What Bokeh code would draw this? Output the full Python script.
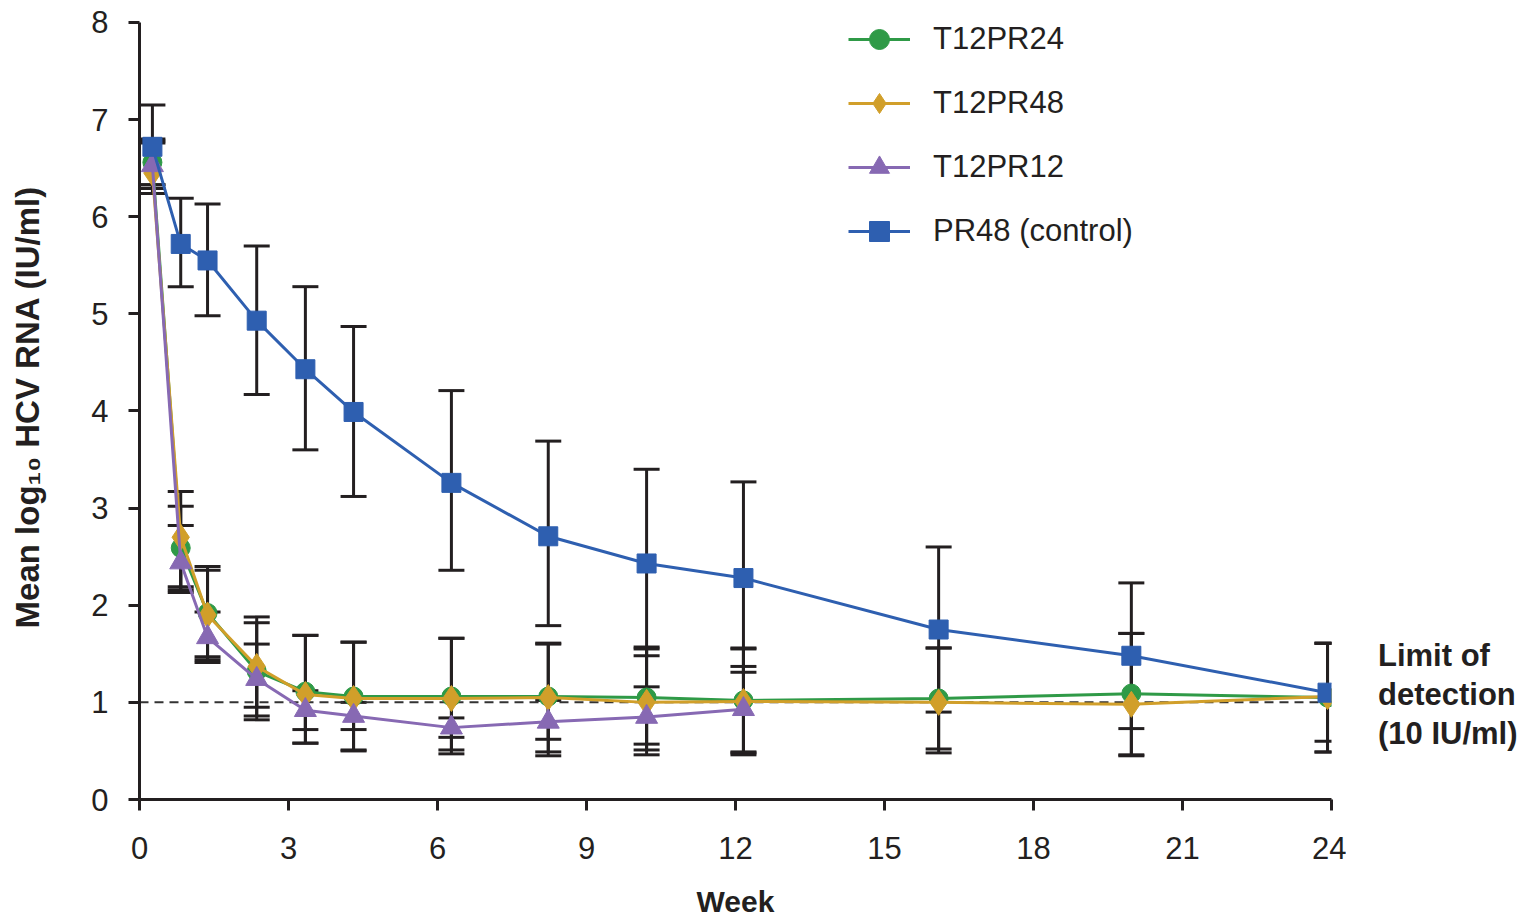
from bokeh.plotting import figure
from bokeh.layouts import row
from bokeh.models import (ColumnDataSource, Whisker, TeeHead, Div,
                          FixedTicker, Range1d, Legend, LegendItem)
from bokeh.embed import file_html
from bokeh.resources import INLINE

# ---- data ----
weeks = [0.26, 0.83, 1.37, 2.36, 3.34, 4.31, 6.28, 8.23, 10.21, 12.16, 16.09, 19.97, 23.92]
weeks_t12pr12 = weeks[:10]

pr48_mean = [6.72, 5.72, 5.55, 4.93, 4.43, 3.99, 3.26, 2.71, 2.43, 2.28, 1.75, 1.48, 1.10]
pr48_upper = [7.15, 6.19, 6.13, 5.70, 5.28, 4.87, 4.21, 3.69, 3.40, 3.27, 2.60, 2.23, 1.61]
pr48_lower = [6.29, 5.28, 4.98, 4.17, 3.60, 3.12, 2.36, 1.79, 1.48, 1.31, 0.90, 0.73, 0.60]

t12pr24_mean = [6.56, 2.59, 1.92, 1.32, 1.11, 1.06, 1.06, 1.06, 1.05, 1.02, 1.04, 1.09, 1.05]
t12pr24_upper = [6.78, 3.02, 2.40, 1.82, 1.69, 1.62, 1.66, 1.61, 1.57, 1.56, 1.56, 1.71, 1.61]
t12pr24_lower = [6.33, 2.16, 1.44, 0.82, 0.58, 0.51, 0.47, 0.49, 0.51, 0.48, 0.52, 0.46, 0.49]

t12pr48_mean = [6.45, 2.70, 1.90, 1.37, 1.08, 1.04, 1.04, 1.05, 1.00, 1.01, 1.00, 0.98, 1.06]
t12pr48_upper = [6.76, 3.17, 2.36, 1.88, 1.69, 1.62, 1.66, 1.60, 1.55, 1.55, 1.56, 1.71, 1.61]
t12pr48_lower = [6.24, 2.19, 1.47, 0.86, 0.58, 0.50, 0.51, 0.45, 0.46, 0.46, 0.48, 0.45, 0.49]

t12pr12_mean = [6.53, 2.44, 1.67, 1.24, 0.92, 0.86, 0.74, 0.80, 0.85, 0.93]
t12pr12_upper = [6.80, 2.82, 1.93, 1.60, 1.12, 1.00, 0.84, 1.02, 1.16, 1.37]
t12pr12_lower = [6.33, 2.13, 1.41, 0.95, 0.72, 0.72, 0.64, 0.62, 0.57, 0.49]

x_ticks = [0, 3, 6, 9, 12, 15, 18, 21, 24]
y_ticks = [0, 1, 2, 3, 4, 5, 6, 7, 8]
detection_limit = 1.0
lod_lines = ["Limit of", "detection", "(10 IU/ml)"]

FONT = "Liberation Sans"
INK = "#231f20"
GREEN = "#2f9a47"
GOLD = "#d19f2a"
PURPLE = "#8769b3"
BLUE = "#2e5fb0"

# frame: 139..1331 px horizontally, 14..800 px vertically (axis bounded to 0..8)
Y_END = 8 * 786 / 778.0

p = figure(width=1346, height=920, output_backend="svg", toolbar_location=None,
           x_range=Range1d(0, 24), y_range=Range1d(0, Y_END),
           min_border_left=139, min_border_right=15, min_border_top=14,
           min_border_bottom=120)
p.outline_line_color = None
p.grid.visible = False
p.background_fill_color = "white"

for ax in (p.xaxis[0], p.yaxis[0]):
    ax.axis_line_color = INK
    ax.axis_line_width = 3
    ax.major_tick_line_color = INK
    ax.major_tick_line_width = 3
    ax.major_tick_out = 11
    ax.major_tick_in = 0
    ax.minor_tick_line_color = None
    ax.major_label_text_font = FONT
    ax.major_label_text_font_size = "31px"
    ax.major_label_text_color = INK
    ax.axis_label_text_font = FONT
    ax.axis_label_text_font_style = "bold"
    ax.axis_label_text_color = INK

p.yaxis.bounds = (y_ticks[0], y_ticks[-1])
p.xaxis.ticker = FixedTicker(ticks=x_ticks)
p.yaxis.ticker = FixedTicker(ticks=y_ticks)
p.xaxis.axis_label = "Week"
p.yaxis.axis_label = "Mean log\u2081\u2080 HCV RNA (IU/ml)"
p.xaxis.axis_label_text_font_size = "30px"
p.yaxis.axis_label_text_font_size = "33px"
p.xaxis.major_label_standoff = 26
p.yaxis.major_label_standoff = 20
p.xaxis.axis_label_standoff = 23
p.yaxis.axis_label_standoff = 42

# limit of detection (dashed reference line)
p.line(x=[x_ticks[0], x_ticks[-1]], y=[detection_limit, detection_limit],
       line_color="#333333", line_width=2, line_dash="9 6")

def whiskers(xs, up, lo):
    src = ColumnDataSource(dict(x=xs, upper=up, lower=lo))
    w = Whisker(source=src, base="x", upper="upper", lower="lower",
                line_color=INK, line_width=3,
                upper_head=TeeHead(size=26, line_color=INK, line_width=3),
                lower_head=TeeHead(size=26, line_color=INK, line_width=3))
    p.add_layout(w)

whiskers(weeks, pr48_upper, pr48_lower)
whiskers(weeks, t12pr24_upper, t12pr24_lower)
whiskers(weeks, t12pr48_upper, t12pr48_lower)
whiskers(weeks_t12pr12, t12pr12_upper, t12pr12_lower)

series = [
    ("T12PR24", weeks, t12pr24_mean, GREEN, "circle", 19),
    ("T12PR48", weeks, t12pr48_mean, GOLD, "diamond", 26),
    ("T12PR12", weeks_t12pr12, t12pr12_mean, PURPLE, "triangle", 22),
    ("PR48 (control)", weeks, pr48_mean, BLUE, "square", 19),
]
items = []
for name, xs, ys, col, mk, sz in series:
    r1 = p.line(xs, ys, line_color=col, line_width=3)
    r2 = p.scatter(xs, ys, marker=mk, size=sz, fill_color=col, line_color=col)
    items.append(LegendItem(label=name, renderers=[r1, r2]))

legend = Legend(items=items, location=(709, 543), orientation="vertical",
                label_text_font=FONT, label_text_font_size="31px",
                label_text_color=INK, glyph_width=62, glyph_height=50,
                label_height=50, spacing=14, padding=0, margin=0,
                label_standoff=23, border_line_color=None,
                background_fill_alpha=0)
p.add_layout(legend, "center")

lod = Div(text="<br>".join(lod_lines), width=190, height=920, margin=0,
          styles={"font-family": FONT, "font-size": "31px", "font-weight": "bold",
                  "color": INK, "line-height": "39px", "padding-top": "636px",
                  "padding-left": "32px", "white-space": "nowrap"})

layout = row(p, lod, spacing=0)
open("out.html", "w").write(file_html(layout, INLINE))
